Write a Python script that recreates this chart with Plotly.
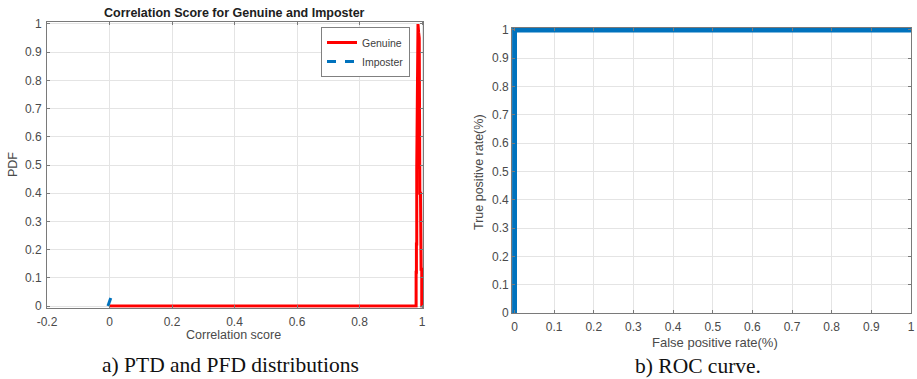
import plotly.graph_objects as go

# ---- data ----
genuine_x = [0.0, 0.981, 0.981, 0.982, 0.982, 0.983, 0.983, 0.985, 0.987, 0.989, 0.991, 0.993, 0.995, 0.997, 0.999, 0.999, 1.0]
genuine_y = [0.0, 0.0, 0.12, 0.12, 0.22, 0.22, 0.49, 0.77, 1.0, 0.97, 0.95, 0.40, 0.40, 0.13, 0.13, 0.0, 0.0]
imposter_x = [-0.005, -0.002, 0.001, 0.004]
imposter_y = [0.0, 0.012, 0.022, 0.028]
roc_fpr = [0.0, 0.0, 1.0]
roc_tpr = [0.0, 1.0, 1.0]

left_xticks = [-0.2, 0, 0.2, 0.4, 0.6, 0.8, 1]
left_xlabels = ["-0.2", "0", "0.2", "0.4", "0.6", "0.8", "1"]
yticks = [0, 0.1, 0.2, 0.3, 0.4, 0.5, 0.6, 0.7, 0.8, 0.9, 1]
ylabels = ["0", "0.1", "0.2", "0.3", "0.4", "0.5", "0.6", "0.7", "0.8", "0.9", "1"]
right_xticks = [0, 0.1, 0.2, 0.3, 0.4, 0.5, 0.6, 0.7, 0.8, 0.9, 1]
right_xlabels = ["0", "0.1", "0.2", "0.3", "0.4", "0.5", "0.6", "0.7", "0.8", "0.9", "1"]

W, H = 917, 379
TICKC = "#4a4a4a"
GRID = "#e4e4e4"
AXC = "#7a7a7a"
SANS = "Liberation Sans, Arial, sans-serif"
SERIF = "Liberation Serif, Times New Roman, serif"

fig = go.Figure()
fig.add_trace(go.Scatter(x=genuine_x, y=genuine_y, mode="lines", name="Genuine",
                         line=dict(color="#ff0000", width=3), xaxis="x", yaxis="y"))
fig.add_trace(go.Scatter(x=imposter_x, y=imposter_y, mode="lines", name="Imposter",
                         line=dict(color="#0072BD", width=3, dash="dash"), xaxis="x", yaxis="y"))
fig.add_trace(go.Scatter(x=roc_fpr, y=roc_tpr, mode="lines", showlegend=False,
                         line=dict(color="#0072BD", width=5), xaxis="x2", yaxis="y2"))

axis_common = dict(showgrid=True, gridcolor=GRID, gridwidth=1, zeroline=False,
                   showline=True, linecolor=AXC, linewidth=1, mirror="ticks",
                   ticks="inside", ticklen=3, tickcolor=AXC,
                   ticklabeloverflow="allow", automargin=False,
                   tickfont=dict(family=SANS, size=12, color=TICKC))

def px(xp):
    return xp / W

def py(yp):
    return (H - yp) / H

fig.update_layout(
    width=W, height=H, margin=dict(l=0, r=0, t=0, b=0),
    paper_bgcolor="white", plot_bgcolor="white",
    xaxis=dict(domain=[px(47), px(423.3)], range=[-0.2, 1.004], ticklabelstandoff=3,
               tickvals=left_xticks, ticktext=left_xlabels, anchor="y", **axis_common),
    yaxis=dict(domain=[py(307.7), py(22.3)], range=[-0.006, 1.006], ticklabelstandoff=2,
               tickvals=yticks, ticktext=ylabels, anchor="x", **axis_common),
    xaxis2=dict(domain=[px(512.1), px(911)], range=[-0.006, 1.0], ticklabelstandoff=3,
                tickvals=right_xticks, ticktext=right_xlabels, anchor="y2", **axis_common),
    yaxis2=dict(domain=[py(313), py(27.7)], range=[0, 1.008], ticklabelstandoff=0,
                tickvals=yticks, ticktext=ylabels, anchor="x2", **axis_common),
    legend=dict(x=px(410), y=py(27), xanchor="right", yanchor="top",
                bgcolor="white", bordercolor="#808080", borderwidth=1,
                font=dict(family=SANS, size=10.5, color="#404040"),
                tracegroupgap=0, itemwidth=30),
    showlegend=True,
)

annotations = [
    dict(text="<b>Correlation Score for Genuine and Imposter</b>", x=px(235), y=py(13),
         font=dict(family=SANS, size=12.5, color="#202020")),
    dict(text="Correlation score", x=px(233), y=py(335),
         font=dict(family=SANS, size=12.5, color=TICKC)),
    dict(text="PDF", x=px(13), y=py(165), textangle=-90,
         font=dict(family=SANS, size=12.5, color=TICKC)),
    dict(text="False positive rate(%)", x=px(715), y=py(342),
         font=dict(family=SANS, size=13, color=TICKC)),
    dict(text="True positive rate(%)", x=px(479), y=py(172), textangle=-90,
         font=dict(family=SANS, size=12.5, color=TICKC)),
    dict(text="a) PTD and PFD distributions", x=px(230), y=py(365),
         font=dict(family=SERIF, size=21.5, color="#111111")),
    dict(text="b) ROC curve.", x=px(698), y=py(366),
         font=dict(family=SERIF, size=21.5, color="#111111")),
]
for a in annotations:
    a.update(xref="paper", yref="paper", showarrow=False, xanchor="center", yanchor="middle")
fig.update_layout(annotations=annotations)

fig.write_html("out.html", config={"displayModeBar": False},
               post_script="document.body.style.margin='0px';document.body.style.overflow='hidden';")
